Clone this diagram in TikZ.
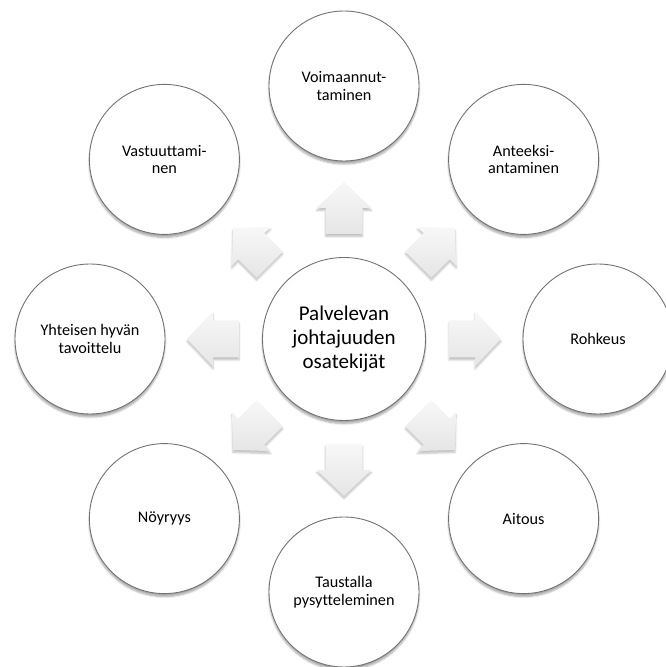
\documentclass[tikz,border=0pt]{standalone}
\usepackage{fontspec}
\setmainfont{Carlito}[Ligatures=NoCommon]
\usetikzlibrary{calc,shadows.blur}
\begin{document}
\begin{tikzpicture}[x=1pt,y=1pt,
  bub/.style={circle, draw=black!55, fill=white, line width=0.9pt,
    minimum size=150pt, inner sep=0pt, align=center,
    font=\fontsize{16.2}{17.5}\selectfont,
    blur shadow={shadow xshift=0pt, shadow yshift=-3pt, shadow blur steps=6, shadow opacity=35}},
  hub/.style={bub, minimum size=163pt, font=\fontsize{21}{24}\selectfont},
  blockarrow/.style={top color=gray!6, bottom color=gray!20, draw=none,
    blur shadow={shadow xshift=0pt, shadow yshift=-2.5pt, shadow blur steps=5, shadow opacity=25}}]
\useasboundingbox (0,0) rectangle (665,667);
\coordinate (c) at (344,328);
\foreach \a in {90,45,0,-45,-90,-135,180,135}{
  \begin{scope}[shift={(c)}, rotate=\a]
    \path[blockarrow] (105,-18.5) -- (131,-18.5) -- (131,-27.5) -- (157,0)
      -- (131,27.5) -- (131,18.5) -- (105,18.5) -- cycle;
  \end{scope}
}
\node[hub] (hub) at (c) {Palvelevan\\johtajuuden\\osatekijät};
\node[bub] (n1) at ($(c)+(90:253)$) {Voimaannut-\\taminen};
\node[bub] (n2) at ($(c)+(45:254)$) {Anteeksi-\\antaminen};
\node[bub] (n3) at ($(c)+(0:254)$) {Rohkeus};
\node[bub] (n4) at ($(c)+(-45:254)$) {Aitous};
\node[bub] (n5) at ($(c)+(-90:253)$) {Taustalla\\pysytteleminen};
\node[bub] (n6) at ($(c)+(-135:254)$) {Nöyryys};
\node[bub] (n7) at ($(c)+(180:254)$) {Yhteisen hyvän\\tavoittelu};
\node[bub] (n8) at ($(c)+(135:254)$) {Vastuuttami-\\nen};
\end{tikzpicture}
\end{document}
